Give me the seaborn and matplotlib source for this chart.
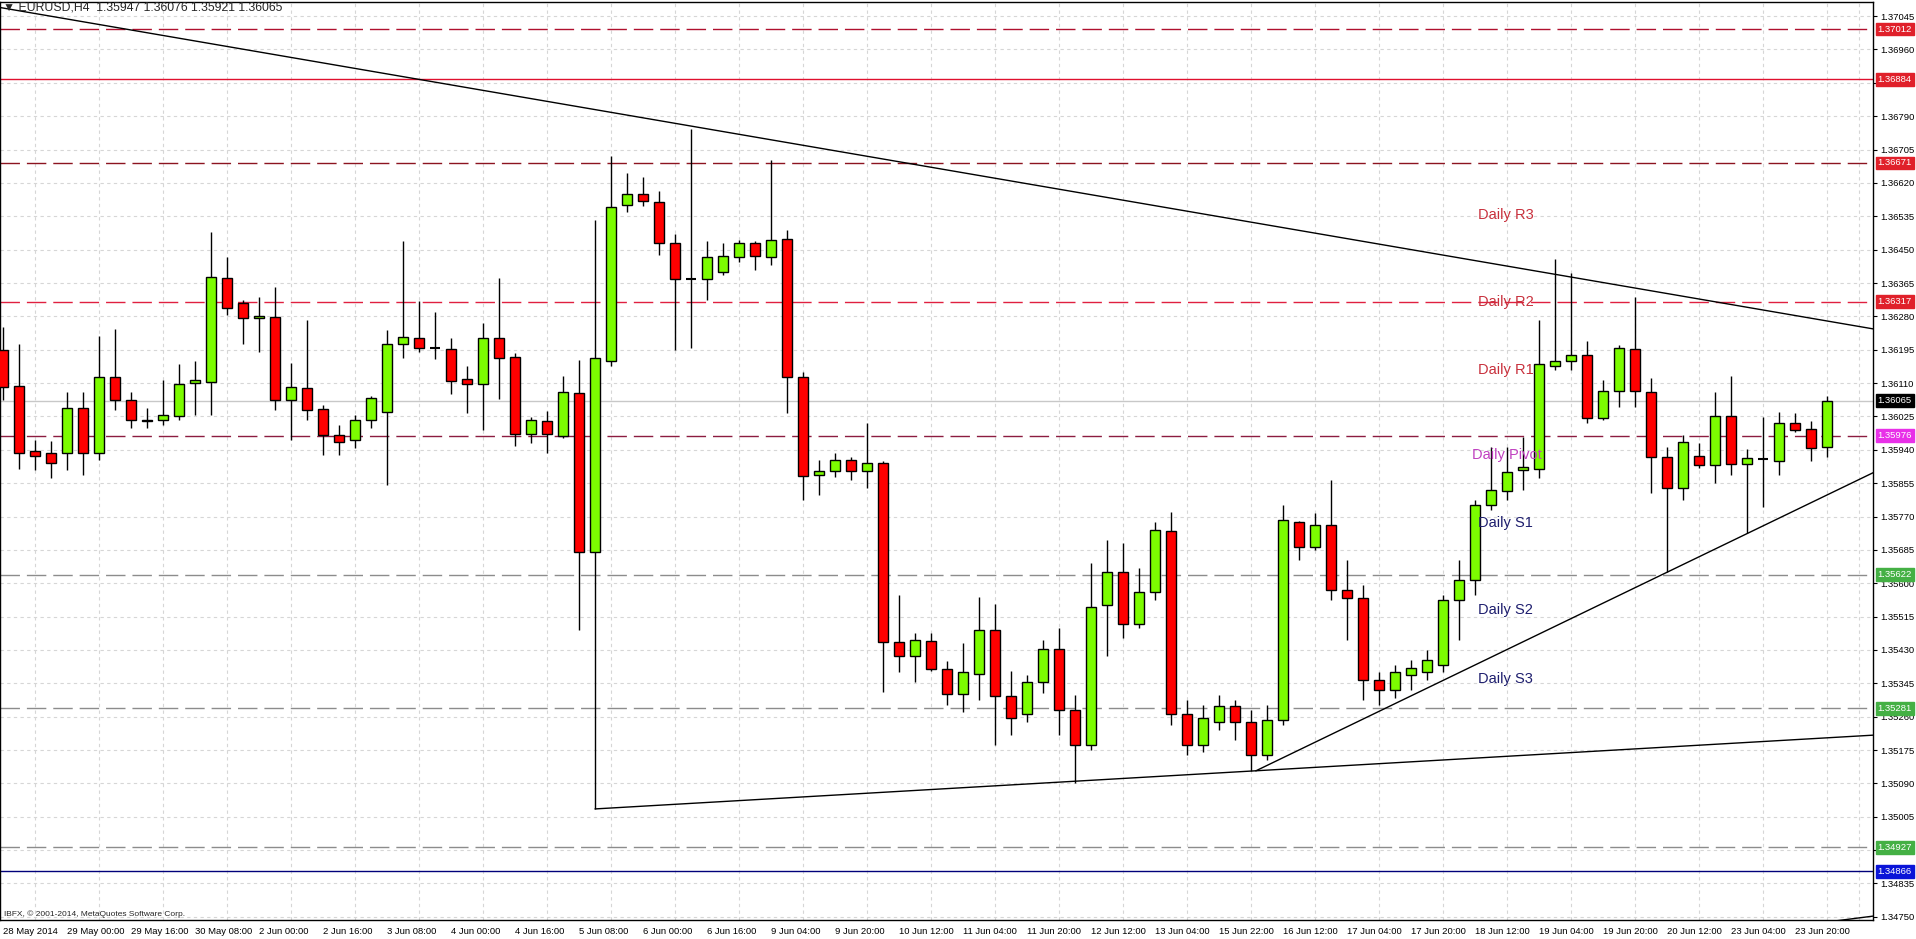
import numpy as np
import pandas as pd
import matplotlib
matplotlib.use('Agg')
import matplotlib.pyplot as plt
import matplotlib.transforms as mtransforms
import seaborn as sns

sns.set_style('white')
plt.rcParams['font.family'] = ['Liberation Sans', 'DejaVu Sans']

# EURUSD H4 bars, oldest first
opens = [1.36194, 1.36102, 1.35937, 1.35932, 1.35932, 1.36046, 1.35932, 1.36125, 1.36067, 1.36016,
         1.36016, 1.36026, 1.36110, 1.36113, 1.36378, 1.36314, 1.36276, 1.36278, 1.36067, 1.36097,
         1.36044, 1.35978, 1.35965, 1.36016, 1.36036, 1.36210, 1.36225, 1.36199, 1.36197, 1.36120,
         1.36108, 1.36225, 1.36176, 1.35980, 1.36013, 1.35975, 1.36085, 1.35679, 1.36166, 1.36564,
         1.36592, 1.36571, 1.36467, 1.36375, 1.36375, 1.36393, 1.36431, 1.36467, 1.36431, 1.36477,
         1.36125, 1.35876, 1.35886, 1.35914, 1.35886, 1.35906, 1.35450, 1.35415, 1.35453, 1.35381,
         1.35318, 1.35369, 1.35481, 1.35313, 1.35267, 1.35348, 1.35432, 1.35277, 1.35188, 1.35545,
         1.35628, 1.35496, 1.35578, 1.35733, 1.35267, 1.35188, 1.35246, 1.35287, 1.35246, 1.35162,
         1.35251, 1.35756, 1.35692, 1.35748, 1.35583, 1.35562, 1.35353, 1.35328, 1.35366, 1.35374,
         1.35392, 1.35557, 1.35608, 1.35799, 1.35835, 1.35888, 1.35891, 1.36153, 1.36166, 1.36181,
         1.36021, 1.36090, 1.36197, 1.36087, 1.35922, 1.35843, 1.35924, 1.35901, 1.36026, 1.35904,
         1.35916, 1.35911, 1.36008, 1.35993, 1.35947]
highs = [1.36253, 1.36210, 1.35965, 1.35962, 1.36087, 1.36087, 1.36230, 1.36248, 1.36087, 1.36046,
         1.36118, 1.36159, 1.36166, 1.36495, 1.36431, 1.36322, 1.36329, 1.36355, 1.36161, 1.36271,
         1.36054, 1.36003, 1.36029, 1.36077, 1.36245, 1.36472, 1.36319, 1.36291, 1.36225, 1.36153,
         1.36263, 1.36378, 1.36187, 1.36024, 1.36039, 1.36128, 1.36169, 1.36525, 1.36689, 1.36645,
         1.36635, 1.36599, 1.36490, 1.36757, 1.36472, 1.36467, 1.36475, 1.36472, 1.36678, 1.36500,
         1.36138, 1.35914, 1.35932, 1.35922, 1.36008, 1.35911, 1.35570, 1.35473, 1.35473, 1.35402,
         1.35448, 1.35565, 1.35547, 1.35376, 1.35366, 1.35455, 1.35486, 1.35315, 1.35651, 1.35710,
         1.35702, 1.35639, 1.35756, 1.35781, 1.35302, 1.35290, 1.35315, 1.35302, 1.35277, 1.35290,
         1.35799, 1.35758, 1.35779, 1.35863, 1.35659, 1.35595, 1.35374, 1.35392, 1.35404, 1.35430,
         1.35570, 1.35659, 1.35812, 1.35947, 1.35947, 1.35972, 1.36271, 1.36426, 1.36390, 1.36217,
         1.36118, 1.36207, 1.36329, 1.36123, 1.35947, 1.35978, 1.35957, 1.36087, 1.36128, 1.35942,
         1.36024, 1.36036, 1.36034, 1.36013, 1.36076]
lows = [1.36067, 1.35891, 1.35888, 1.35868, 1.35888, 1.35876, 1.35914, 1.36041, 1.35995, 1.35995,
        1.36003, 1.36016, 1.36029, 1.36029, 1.36283, 1.36210, 1.36189, 1.36041, 1.35965, 1.36016,
        1.35927, 1.35927, 1.35944, 1.35995, 1.35850, 1.36174, 1.36189, 1.36171, 1.36082, 1.36034,
        1.35990, 1.36069, 1.35950, 1.35957, 1.35932, 1.35970, 1.35481, 1.35025, 1.36153, 1.36546,
        1.36561, 1.36436, 1.36194, 1.36199, 1.36322, 1.36385, 1.36418, 1.36398, 1.36411, 1.36034,
        1.35812, 1.35825, 1.35871, 1.35863, 1.35843, 1.35323, 1.35374, 1.35348, 1.35376, 1.35290,
        1.35272, 1.35302, 1.35188, 1.35213, 1.35246, 1.35320, 1.35213, 1.35091, 1.35175, 1.35415,
        1.35460, 1.35486, 1.35557, 1.35239, 1.35162, 1.35170, 1.35226, 1.35200, 1.35122, 1.35150,
        1.35239, 1.35659, 1.35685, 1.35557, 1.35455, 1.35302, 1.35290, 1.35307, 1.35328, 1.35353,
        1.35374, 1.35455, 1.35570, 1.35787, 1.35812, 1.35837, 1.35868, 1.36143, 1.36143, 1.36008,
        1.36016, 1.36049, 1.36049, 1.35830, 1.35628, 1.35812, 1.35894, 1.35855, 1.35876, 1.35728,
        1.35794, 1.35876, 1.35985, 1.35911, 1.35921]
closes = [1.36100, 1.35932, 1.35924, 1.35906, 1.36046, 1.35932, 1.36125, 1.36067, 1.36016, 1.36013,
          1.36029, 1.36108, 1.36118, 1.36380, 1.36301, 1.36276, 1.36281, 1.36067, 1.36100, 1.36041,
          1.35978, 1.35960, 1.36016, 1.36072, 1.36210, 1.36227, 1.36199, 1.36199, 1.36115, 1.36108,
          1.36225, 1.36174, 1.35980, 1.36016, 1.35980, 1.36087, 1.35679, 1.36174, 1.36559, 1.36592,
          1.36574, 1.36467, 1.36375, 1.36375, 1.36431, 1.36434, 1.36467, 1.36434, 1.36475, 1.36125,
          1.35873, 1.35886, 1.35914, 1.35886, 1.35906, 1.35450, 1.35415, 1.35455, 1.35381, 1.35318,
          1.35374, 1.35481, 1.35313, 1.35256, 1.35348, 1.35432, 1.35277, 1.35188, 1.35539, 1.35628,
          1.35496, 1.35578, 1.35736, 1.35267, 1.35188, 1.35256, 1.35287, 1.35246, 1.35162, 1.35251,
          1.35761, 1.35692, 1.35748, 1.35583, 1.35562, 1.35353, 1.35328, 1.35374, 1.35384, 1.35404,
          1.35557, 1.35608, 1.35799, 1.35837, 1.35883, 1.35896, 1.36159, 1.36166, 1.36181, 1.36021,
          1.36090, 1.36199, 1.36090, 1.35922, 1.35843, 1.35960, 1.35901, 1.36026, 1.35904, 1.35919,
          1.35916, 1.36008, 1.35990, 1.35944, 1.36065]

# time axis labels, one every 4 bars
time_labels = ['28 May 2014', '29 May 00:00', '29 May 16:00', '30 May 08:00', '2 Jun 00:00',
               '2 Jun 16:00', '3 Jun 08:00', '4 Jun 00:00', '4 Jun 16:00', '5 Jun 08:00',
               '6 Jun 00:00', '6 Jun 16:00', '9 Jun 04:00', '9 Jun 20:00', '10 Jun 12:00',
               '11 Jun 04:00', '11 Jun 20:00', '12 Jun 12:00', '13 Jun 04:00', '15 Jun 22:00',
               '16 Jun 12:00', '17 Jun 04:00', '17 Jun 20:00', '18 Jun 12:00', '19 Jun 04:00',
               '19 Jun 20:00', '20 Jun 12:00', '23 Jun 04:00', '23 Jun 20:00']
price_ticks = [1.34750, 1.34835, 1.34920, 1.35005, 1.35090, 1.35175, 1.35260, 1.35345, 1.35430,
               1.35515, 1.35600, 1.35685, 1.35770, 1.35855, 1.35940, 1.36025, 1.36110, 1.36195,
               1.36280, 1.36365, 1.36450, 1.36535, 1.36620, 1.36705, 1.36790, 1.36875, 1.36960,
               1.37045]
hidden_ticks = [1.34920, 1.36875]   # covered by price tags in the terminal

# horizontal levels and their price tags
levels = [1.37012, 1.36884, 1.36671, 1.36317, 1.36065, 1.35976, 1.35622, 1.35281, 1.34927, 1.34866]
level_colors = ['#b0102e', '#e0102e', '#8c1420', '#e02040', '#c8c8c8', '#8c1c40',
                '#8c8c8c', '#8c8c8c', '#8c8c8c', '#00007a']
level_dashed = [True, False, True, True, False, True, True, True, True, False]
tag_colors = ['#e0202a', '#e0202a', '#e0202a', '#e0202a', '#000000', '#e830e8',
              '#44b044', '#44b044', '#44b044', '#0a14d8']

pivot_names = ['Daily R3', 'Daily R2', 'Daily R1', 'Daily Pivot', 'Daily S1', 'Daily S2', 'Daily S3']
pivot_prices = [1.36538, 1.36317, 1.36143, 1.35927, 1.35753, 1.35532, 1.35356]
pivot_colors = ['#c8303c', '#c8303c', '#c8303c', '#c040c0', '#1e1e6e', '#1e1e6e', '#1e1e6e']

# drawn trendlines (bar index, price)
down_bar, down_px = [-0.19, 116.9], [1.37067, 1.36248]
base_bar, base_px = [37, 116.9], [1.35025, 1.35213]
up_bar, up_px = [78.3, 116.9], [1.35122, 1.35882]
low_bar, low_px = [114.2, 116.9], [1.34738, 1.34752]

df = pd.DataFrame({'open': opens, 'high': highs, 'low': lows, 'close': closes})
df['bar'] = np.arange(len(df))

W, H = 1916, 939
fig = plt.figure(figsize=(W / 100, H / 100), dpi=100)
ax = fig.add_axes([0, (H - 920) / H, 1873 / W, 918 / H])
ax.set_xlim(-0.1875, 116.875)
ax.set_ylim(1.34742, 1.37081)

# scales and grid
ax.set_yticks(price_ticks)
ax.set_yticklabels(['' if p in hidden_ticks else '%.5f' % p for p in price_ticks])
ax.yaxis.tick_right()
ax.set_xticks(np.arange(0, len(time_labels) * 4, 4))
ax.set_xticklabels(time_labels, ha='left')
ax.set_xticks(np.arange(0, 117, 2), minor=True)
ax.tick_params(axis='both', which='major', labelsize=6.8, length=3, width=0.8, pad=2, colors='black')
ax.tick_params(axis='x', which='minor', length=0)
ax.grid(axis='y', which='major', color='#d6d6d6', linestyle=(0, (3, 3)), lw=0.8, zorder=0)
ax.grid(axis='x', which='minor', color='#d6d6d6', linestyle=(0, (3, 3)), lw=0.8, zorder=0)
for sp in ax.spines.values():
    sp.set_color('black')
    sp.set_linewidth(1)

# horizontal levels
for p, c, d in zip(levels, level_colors, level_dashed):
    ax.axhline(p, color=c, lw=1, linestyle=(0, (14, 5)) if d else '-', zorder=1)

# candles
up = df['close'] > df['open']
dn = df['close'] < df['open']
flat = df['close'] == df['open']
ax.vlines(df['bar'], df['low'], df['high'], color='black', lw=1, zorder=3)
ax.bar(df['bar'][up], (df['close'] - df['open'])[up], bottom=df['open'][up], width=0.62,
       color='#7cfc00', edgecolor='black', linewidth=1, zorder=4)
ax.bar(df['bar'][dn], (df['open'] - df['close'])[dn], bottom=df['close'][dn], width=0.62,
       color='#ff0000', edgecolor='black', linewidth=1, zorder=4)
ax.hlines(df['open'][flat], df['bar'][flat] - 0.31, df['bar'][flat] + 0.31, color='black', lw=1.5, zorder=4)

# trendlines
for bx, py in [(down_bar, down_px), (base_bar, base_px), (up_bar, up_px), (low_bar, low_px)]:
    sns.lineplot(x=bx, y=py, color='black', lw=1, ax=ax, zorder=5)

# pivot texts
for name, p, c in zip(pivot_names, pivot_prices, pivot_colors):
    x0 = 91.8 if name == 'Daily Pivot' else 92.2
    ax.text(x0, p, name, color=c, fontsize=10.5, va='center', ha='left', zorder=6)

# price tags on the right scale
trans = mtransforms.blended_transform_factory(ax.transAxes, ax.transData)
for p, c in zip(levels, tag_colors):
    ax.text(1.0024, p, '%.5f' % p, transform=trans, fontsize=6.8, color='white', va='center',
            ha='left', clip_on=False, zorder=7,
            bbox=dict(boxstyle='square,pad=0.2', fc=c, ec=c))

fig.text(3 / W, 1 - 8 / H, '\u25BC EURUSD,H4  1.35947 1.36076 1.35921 1.36065', fontsize=8.8,
         va='center', ha='left')
ax.text(0.002, 6 / 918, 'IBFX, \u00a9 2001-2014, MetaQuotes Software Corp.', transform=ax.transAxes,
        fontsize=6.0, va='center', ha='left')

ax.set_xlabel('')
ax.set_ylabel('')
fig.savefig('out.png', dpi=100)
